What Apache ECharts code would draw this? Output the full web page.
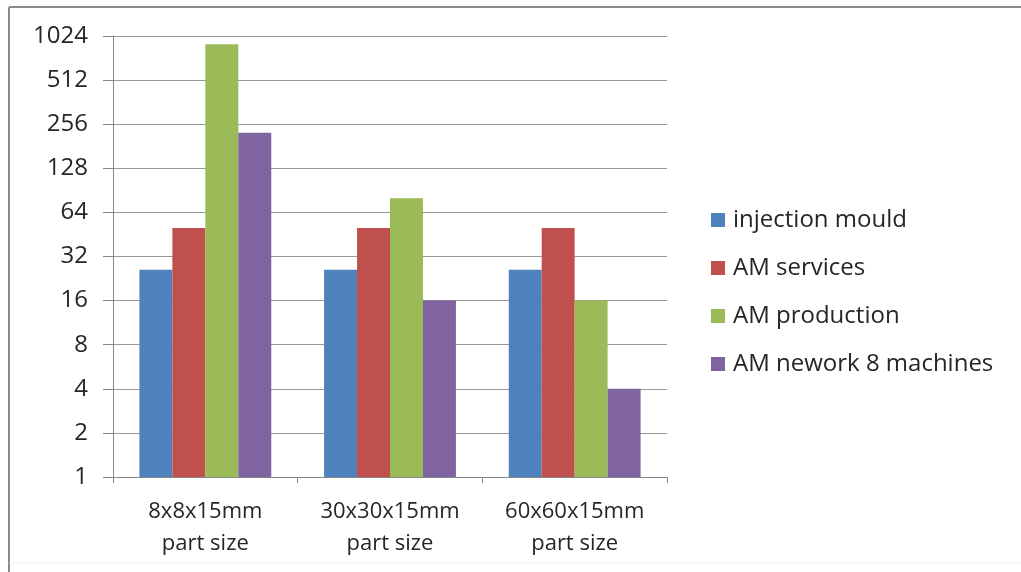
<!DOCTYPE html>
<html>
<head>
<meta charset="utf-8">
<script src="https://cdn.jsdelivr.net/npm/echarts@6/dist/echarts.min.js"></script>
<style>
html,body{margin:0;padding:0;background:#fff;}
#chart{width:1021px;height:572px;}
</style>
</head>
<body>
<div id="chart"></div>
<script>
const categories = ['8x8x15mm\npart size', '30x30x15mm\npart size', '60x60x15mm\npart size'];
const seriesNames = ['injection mould', 'AM services', 'AM production', 'AM nework 8 machines'];
const injectionMould = [26, 26, 26];
const amServices = [50, 50, 50];
const amProduction = [900, 80, 16];
const amNetwork = [224, 16, 4];
const yTicks = [1, 2, 4, 8, 16, 32, 64, 128, 256, 512, 1024];
const colors = ['#4F81BD', '#C0504D', '#9BBB59', '#8064A2'];

const font = 'Open Sans, Liberation Sans, sans-serif';
const dataList = [injectionMould, amServices, amProduction, amNetwork];

const chart = echarts.init(document.getElementById('chart'));
chart.setOption({
  animation: false,
  backgroundColor: '#fff',
  graphic: [
    {type: 'line', shape: {x1: 9, y1: 7, x2: 1021, y2: 7}, style: {stroke: '#8a8a8a', lineWidth: 2}},
    {type: 'line', shape: {x1: 9, y1: 7, x2: 9, y2: 572}, style: {stroke: '#8a8a8a', lineWidth: 2}},
    {type: 'line', shape: {x1: 9, y1: 563, x2: 1021, y2: 563}, style: {stroke: '#eeeeee', lineWidth: 1}}
  ],
  grid: {left: 113, top: 36, right: 354, bottom: 95, containLabel: false},
  legend: {
    orient: 'vertical',
    left: 706,
    top: 203,
    itemWidth: 14,
    itemHeight: 14,
    itemGap: 24,
    icon: 'rect',
    textStyle: {fontFamily: font, fontSize: 24, color: '#262626', padding: [0, 0, 0, 3]},
    data: seriesNames
  },
  xAxis: {
    type: 'category',
    data: categories,
    axisLine: {lineStyle: {color: '#888', width: 1}},
    axisTick: {show: true, length: 6, lineStyle: {color: '#888'}},
    axisLabel: {fontFamily: font, fontSize: 22, color: '#262626', margin: 19, lineHeight: 32}
  },
  yAxis: {
    type: 'log',
    logBase: 2,
    min: 1,
    max: 1024,
    interval: 1,
    axisLine: {show: true, lineStyle: {color: '#888', width: 1}},
    axisTick: {show: true, length: 10, lineStyle: {color: '#888'}},
    splitLine: {show: true, lineStyle: {color: '#999', width: 1}},
    axisLabel: {fontFamily: font, fontSize: 24, color: '#262626', margin: 25,
      formatter: function (v) { return yTicks.indexOf(Math.round(v)) >= 0 ? String(Math.round(v)) : ''; }}
  },
  series: seriesNames.map((n, i) => ({
    name: n,
    type: 'bar',
    data: dataList[i],
    barGap: '0%',
    barCategoryGap: '28.6%',
    itemStyle: {color: colors[i]}
  }))
});
</script>
</body>
</html>
